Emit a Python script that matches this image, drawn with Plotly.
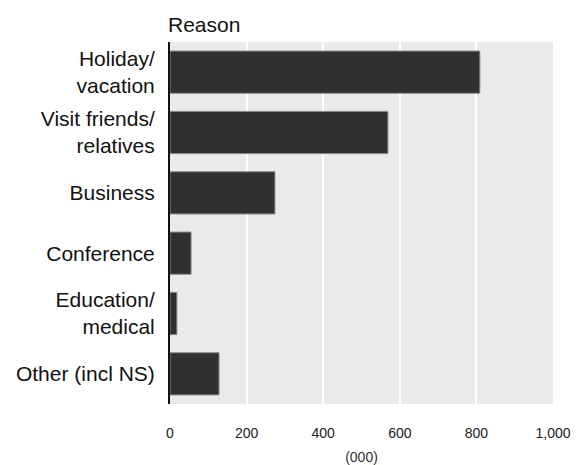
import plotly.graph_objects as go

categories = ["Holiday/<br>vacation", "Visit friends/<br>relatives", "Business",
              "Conference", "Education/<br>medical", "Other (incl NS)"]
values = [809, 569, 274, 55, 18, 128]
tick_vals = [0, 200, 400, 600, 800, 1000]
tick_text = ["0", "200", "400", "600", "800", "1,000"]

fig = go.Figure(go.Bar(
    x=values, y=categories, orientation="h",
    marker=dict(color="#303030", line=dict(color="#8a8a8a", width=1)),
    width=0.7,
))

font = "Liberation Sans, Arial, sans-serif"
fig.update_layout(
    width=586, height=465,
    margin=dict(l=162, r=41, t=34, b=69),
    paper_bgcolor="white", plot_bgcolor="#eaeaea",
    showlegend=False,
    font=dict(family=font, color="#111111"),
    xaxis=dict(range=[0, 1000], tickvals=tick_vals, ticktext=tick_text,
               showgrid=True, gridcolor="white", gridwidth=2, zeroline=False,
               automargin=False,
               tickfont=dict(size=14, color="#222"),
               ticks="outside", ticklen=16, tickcolor="rgba(0,0,0,0)",
               title=dict(text="(000)", font=dict(size=14, color="#333"), standoff=12)),
    yaxis=dict(autorange="reversed", showline=True, linecolor="#111", linewidth=2,
               showgrid=False, automargin=False,
               tickfont=dict(size=21, color="#111"),
               ticks="outside", ticklen=9, tickcolor="rgba(0,0,0,0)"),
    annotations=[dict(text="Reason", x=0, y=1, xref="paper", yref="paper",
                      xanchor="left", yanchor="middle", yshift=18, xshift=-4,
                      showarrow=False, font=dict(size=21, color="#111"))],
)

fig.write_html("out.html")
